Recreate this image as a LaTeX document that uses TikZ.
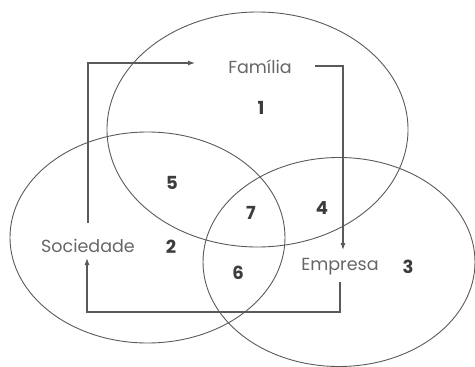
\documentclass[tikz,border=0pt]{standalone}
\usepackage{fontspec}
\setmainfont{Poppins}
\usetikzlibrary{arrows.meta}
\definecolor{ln}{HTML}{5A5A5A}
\definecolor{lbl}{HTML}{666666}
\definecolor{num}{HTML}{3C3C3C}
\tikzset{
  ring/.style={draw=ln, line width=0.9pt},
  flow/.style={draw=ln, line width=1.1pt, -{Latex[length=7pt,width=5pt]}},
  lab/.style={text=lbl, font=\fontsize{17.5}{20}\selectfont, inner sep=0pt},
  numlab/.style={text=num, font=\fontsize{18}{20}\selectfont\bfseries, inner sep=0pt}
}
\begin{document}
\begin{tikzpicture}[x=1pt,y=-1pt]
\useasboundingbox (0,0) rectangle (475,367);
% ellipses
\draw[ring] (257.5,129.5) ellipse [x radius=150.5, y radius=117.5];
\draw[ring] (147.5,237.5) ellipse [x radius=137.5, y radius=105.5];
\draw[ring] (339,262) ellipse [x radius=136, y radius=104.5];
% labels
\node[lab] (fam) at (260,67) {Família};
\node[lab] (soc) at (88,246) {Sociedade};
\node[lab] (emp) at (340,267) {Empresa};
% numbers
\node[numlab] (n1) at (261,108) {1};
\node[numlab] (n5) at (172,183) {5};
\node[numlab] (n7) at (251,213) {7};
\node[numlab] (n4) at (322,208) {4};
\node[numlab] (n2) at (171,247) {2};
\node[numlab] (n6) at (238,273) {6};
\node[numlab] (n3) at (408,267) {3};
% connector points
\coordinate (a1) at (88,223);
\coordinate (a2) at (88,63);
\coordinate (a3) at (195,63);
\coordinate (b1) at (315,66);
\coordinate (b2) at (343,66);
\coordinate (b3) at (343,250);
\coordinate (c1) at (340,282);
\coordinate (c2) at (340,312);
\coordinate (c3) at (87,312);
\coordinate (c4) at (87,258);
\draw[flow] (a1) -- (a2) -- (a3);
\draw[flow] (b1) -- (b2) -- (b3);
\draw[flow] (c1) -- (c2) -- (c3) -- (c4);
\end{tikzpicture}
\end{document}
